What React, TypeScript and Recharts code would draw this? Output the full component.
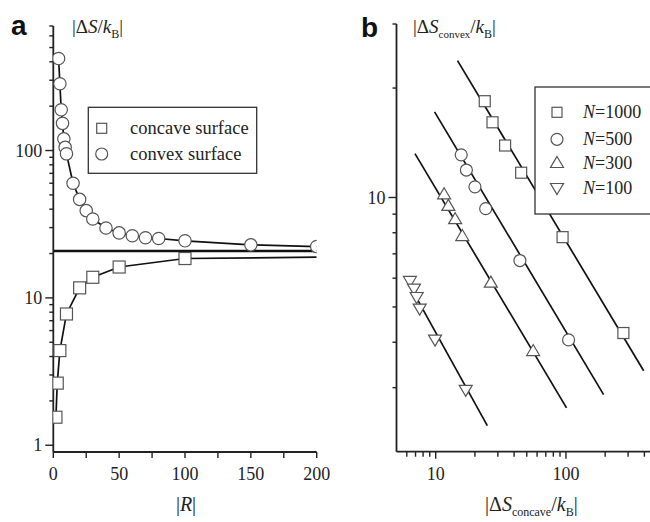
import React from 'react';
import { ComposedChart, Line, Scatter, XAxis, YAxis } from 'recharts';

// ---------- Panel a data ----------
const concaveR = [2, 3, 5, 10, 20, 30, 50, 100];
const concaveS = [1.55, 2.64, 4.39, 7.78, 11.7, 13.8, 16.2, 18.5];
const concaveLineR = [2, 3, 5, 10, 20, 30, 50, 100, 200];
const concaveLineS = [1.55, 2.64, 4.39, 7.78, 11.7, 13.8, 16.2, 18.5, 18.9];
const convexR = [4, 5, 6, 7, 8, 9, 10, 15, 20, 25, 30, 40, 50, 60, 70, 80, 100, 150, 200];
const convexS = [421, 284, 189, 153, 120, 105, 95, 60, 46.6, 39.1, 34.3, 29.8, 27.6, 26.4, 25.6, 25.3, 24.4, 22.9, 22.3];
const asymptoteR = [0, 200];
const asymptoteS = [20.8, 20.8];

// ---------- Panel b data ----------
const n1000X = [23.8, 27.3, 34.1, 45.3, 94.2, 276];
const n1000Y = [18.4, 16.1, 13.9, 11.7, 7.78, 4.24];
const n1000FitX = [14.7, 395];
const n1000FitY = [23.8, 3.34];
const n500X = [15.7, 17.2, 20.0, 24.2, 44.3, 104.7];
const n500Y = [13.1, 11.9, 10.7, 9.32, 6.71, 4.06];
const n500FitX = [9.8, 194.6];
const n500FitY = [17.2, 2.87];
const n300X = [11.6, 12.5, 14.1, 16.0, 26.5, 56.0];
const n300Y = [10.2, 9.48, 8.71, 7.83, 5.83, 3.78];
const n300FitX = [6.93, 101];
const n300FitY = [13.2, 2.64];
const n100X = [6.34, 6.81, 7.14, 7.53, 9.88, 17.0];
const n100Y = [5.9, 5.62, 5.33, 4.95, 4.07, 2.96];
const n100FitX = [5.8, 24.9];
const n100FitY = [6.05, 2.36];

// ---------- Ticks ----------
const aXTicks = [0, 25, 50, 75, 100, 125, 150, 175, 200];
const aXLabeled = [0, 50, 100, 150, 200];
const aYTicks = [1, 2, 3, 4, 5, 6, 7, 8, 9, 10, 20, 30, 40, 50, 60, 70, 80, 90, 100, 200, 300, 400, 500, 600, 700];
const aYMajor = [1, 10, 100];
const bXTicks = [6, 7, 8, 9, 10, 20, 30, 40, 50, 60, 70, 80, 90, 100, 200, 300, 400];
const bXMajor = [10, 100];
const bYTicks = [3, 4, 5, 6, 7, 8, 9, 10, 20, 30];
const bYMajor = [10];

const legendA = ['concave surface', 'convex surface'];
const legendB = ['1000', '500', '300', '100'];

const pts = (xs: number[], ys: number[]) => xs.map((x, i) => ({ x, y: ys[i] }));

const SERIF = '"Liberation Serif", "Times New Roman", serif';
const SANS = '"Liberation Sans", Arial, sans-serif';
const MSTROKE = '#555';
const LSTROKE = '#111';

const makeYTick = (majors: number[], labeled: number[]) => (props: any) => {
  const { x, y, payload } = props;
  const v = payload.value;
  const major = majors.includes(v);
  const len = major ? 8 : 4;
  return (
    <g>
      <line x1={x - len} x2={x} y1={y} y2={y} stroke="#222" strokeWidth={1.4} />
      {labeled.includes(v) && (
        <text x={x - 11} y={y} dy="0.34em" textAnchor="end" fontFamily={SERIF} fontSize={18} fill="#222">
          {v}
        </text>
      )}
    </g>
  );
};

const makeXTick = (majors: number[], labeled: number[], majorLen: number, minorLen: number) => (props: any) => {
  const { x, y, payload } = props;
  const v = payload.value;
  const len = majors.includes(v) ? majorLen : minorLen;
  return (
    <g>
      <line x1={x} x2={x} y1={y} y2={y + len} stroke="#222" strokeWidth={1.4} />
      {labeled.includes(v) && (
        <text x={x} y={y + 28} textAnchor="middle" fontFamily={SERIF} fontSize={18} fill="#222">
          {v}
        </text>
      )}
    </g>
  );
};

const Square = (s: number) => (p: any) => (
  <rect x={p.cx - s / 2} y={p.cy - s / 2} width={s} height={s} fill="#fff" stroke={MSTROKE} strokeWidth={1.2} />
);
const Circ = (r: number) => (p: any) => (
  <circle cx={p.cx} cy={p.cy} r={r} fill="#fff" stroke={MSTROKE} strokeWidth={1.2} />
);
const TriUp = (w: number, h: number) => (p: any) => (
  <path
    d={`M${p.cx},${p.cy - h * 0.6}L${p.cx + w / 2},${p.cy + h * 0.4}L${p.cx - w / 2},${p.cy + h * 0.4}Z`}
    fill="#fff"
    stroke={MSTROKE}
    strokeWidth={1.2}
  />
);
const TriDown = (w: number, h: number) => (p: any) => (
  <path
    d={`M${p.cx},${p.cy + h * 0.6}L${p.cx + w / 2},${p.cy - h * 0.4}L${p.cx - w / 2},${p.cy - h * 0.4}Z`}
    fill="#fff"
    stroke={MSTROKE}
    strokeWidth={1.2}
  />
);

const axisLine = { stroke: '#222', strokeWidth: 1.8 };

function PanelA() {
  return (
    <ComposedChart width={330} height={522} margin={{ top: 26, right: 13.3, bottom: 40, left: 8.3 }}>
      <XAxis
        dataKey="x"
        type="number"
        domain={[0, 200]}
        ticks={aXTicks}
        interval={0}
        tickSize={0}
        tickMargin={0}
        tickLine={false}
        axisLine={axisLine}
        tick={makeXTick(aXLabeled, aXLabeled, 6, 6)}
        height={30}
        allowDataOverflow
      />
      <YAxis
        dataKey="y"
        type="number"
        scale="log"
        domain={[0.9, 700]}
        ticks={aYTicks}
        interval={0}
        tickSize={0}
        tickMargin={0}
        tickLine={false}
        axisLine={axisLine}
        tick={makeYTick(aYMajor, aYMajor)}
        width={45}
        allowDataOverflow
      />
      <Line data={pts(asymptoteR, asymptoteS)} dataKey="y" type="linear" dot={false} stroke={LSTROKE} strokeWidth={2.6} isAnimationActive={false} />
      <Line data={pts(concaveLineR, concaveLineS)} dataKey="y" type="linear" dot={false} stroke={LSTROKE} strokeWidth={1.7} isAnimationActive={false} />
      <Line data={pts(convexR, convexS)} dataKey="y" type="linear" dot={false} stroke={LSTROKE} strokeWidth={1.7} isAnimationActive={false} />
      <Scatter data={pts(concaveR, concaveS)} dataKey="y" shape={Square(12)} isAnimationActive={false} />
      <Scatter data={pts(convexR, convexS)} dataKey="y" shape={Circ(6.2)} isAnimationActive={false} />
    </ComposedChart>
  );
}

function PanelB() {
  return (
    <ComposedChart width={340} height={522} margin={{ top: 24, right: 13, bottom: 40.3, left: 16.5 }}>
      <XAxis
        dataKey="x"
        type="number"
        scale="log"
        domain={[5, 500]}
        ticks={bXTicks}
        interval={0}
        tickSize={0}
        tickMargin={0}
        tickLine={false}
        axisLine={axisLine}
        tick={makeXTick(bXMajor, bXMajor, 7, 5)}
        height={30}
        allowDataOverflow
      />
      <YAxis
        dataKey="y"
        type="number"
        scale="log"
        domain={[2, 30]}
        ticks={bYTicks}
        interval={0}
        tickSize={0}
        tickMargin={0}
        tickLine={false}
        axisLine={axisLine}
        tick={makeYTick(bYMajor, bYMajor)}
        width={50}
        allowDataOverflow
      />
      <Line data={pts(n1000FitX, n1000FitY)} dataKey="y" type="linear" dot={false} stroke={LSTROKE} strokeWidth={1.7} isAnimationActive={false} />
      <Line data={pts(n500FitX, n500FitY)} dataKey="y" type="linear" dot={false} stroke={LSTROKE} strokeWidth={1.7} isAnimationActive={false} />
      <Line data={pts(n300FitX, n300FitY)} dataKey="y" type="linear" dot={false} stroke={LSTROKE} strokeWidth={1.7} isAnimationActive={false} />
      <Line data={pts(n100FitX, n100FitY)} dataKey="y" type="linear" dot={false} stroke={LSTROKE} strokeWidth={1.7} isAnimationActive={false} />
      <Scatter data={pts(n1000X, n1000Y)} dataKey="y" shape={Square(11)} isAnimationActive={false} />
      <Scatter data={pts(n500X, n500Y)} dataKey="y" shape={Circ(6)} isAnimationActive={false} />
      <Scatter data={pts(n300X, n300Y)} dataKey="y" shape={TriUp(13, 11)} isAnimationActive={false} />
      <Scatter data={pts(n100X, n100Y)} dataKey="y" shape={TriDown(13, 11)} isAnimationActive={false} />
    </ComposedChart>
  );
}

function Overlay() {
  const mk = { fill: '#fff', stroke: MSTROKE, strokeWidth: 1.2 };
  const legendBShapes = [
    <rect key="s" x={552} y={107.3} width={10} height={10} {...mk} />,
    <circle key="c" cx={557} cy={139.3} r={6} {...mk} />,
    <path key="u" d="M557,156.5L563.5,167.5L550.5,167.5Z" {...mk} />,
    <path key="d" d="M557,194.5L563.5,183.5L550.5,183.5Z" {...mk} />,
  ];
  const rowsB = [118, 145, 169, 194];
  return (
    <svg width={650} height={522} style={{ position: 'absolute', left: 0, top: 0, pointerEvents: 'none' }}>
      <text x={11} y={35} fontFamily={SANS} fontWeight="bold" fontSize={28} fill="#111">a</text>
      <text x={361} y={37} fontFamily={SANS} fontWeight="bold" fontSize={28} fill="#111">b</text>

      <text x={72} y={33} fontFamily={SERIF} fontSize={19} fill="#222">
        |Δ<tspan fontStyle="italic">S</tspan>/<tspan fontStyle="italic">k</tspan>
        <tspan fontSize={12} dy={5}>B</tspan>
        <tspan dy={-5}>|</tspan>
      </text>
      <text x={413} y={33} fontFamily={SERIF} fontSize={19} fill="#222">
        |Δ<tspan fontStyle="italic">S</tspan>
        <tspan fontSize={11} dy={5}>convex</tspan>
        <tspan dy={-5}>/</tspan>
        <tspan fontStyle="italic">k</tspan>
        <tspan fontSize={12} dy={5}>B</tspan>
        <tspan dy={-5}>|</tspan>
      </text>
      <text x={186} y={511} textAnchor="middle" fontFamily={SERIF} fontSize={20} fill="#222">
        |<tspan fontStyle="italic">R</tspan>|
      </text>
      <text x={485} y={511} fontFamily={SERIF} fontSize={20} fill="#222">
        |Δ<tspan fontStyle="italic">S</tspan>
        <tspan fontSize={12} dy={5}>concave</tspan>
        <tspan dy={-5}>/</tspan>
        <tspan fontStyle="italic">k</tspan>
        <tspan fontSize={12} dy={5}>B</tspan>
        <tspan dy={-5}>|</tspan>
      </text>

      {/* legend a */}
      <rect x={88.3} y={107.3} width={168.4} height={66} fill="#fff" stroke="#333" strokeWidth={1.3} />
      <rect x={96.7} y={123.3} width={10} height={10} {...mk} />
      <circle cx={101.7} cy={154} r={6} {...mk} />
      <text x={130} y={134} fontFamily={SERIF} fontSize={18.5} fill="#222">{legendA[0]}</text>
      <text x={130} y={160} fontFamily={SERIF} fontSize={18.5} fill="#222">{legendA[1]}</text>

      {/* legend b */}
      <rect x={535} y={87} width={130} height={127} fill="#fff" stroke="#333" strokeWidth={1.3} />
      {legendBShapes}
      {legendB.map((n, i) => (
        <text key={n} x={583} y={rowsB[i]} fontFamily={SERIF} fontSize={18} fill="#222">
          <tspan fontStyle="italic">N</tspan>={n}
        </text>
      ))}
    </svg>
  );
}

export default function App() {
  return (
    <div style={{ position: 'fixed', left: 0, top: 0, width: 650, height: 522, overflow: 'hidden', background: '#fff' }}>
      <div style={{ position: 'absolute', left: 0, top: 0 }}>
        <PanelA />
      </div>
      <div style={{ position: 'absolute', left: 330, top: 0 }}>
        <PanelB />
      </div>
      <Overlay />
    </div>
  );
}
